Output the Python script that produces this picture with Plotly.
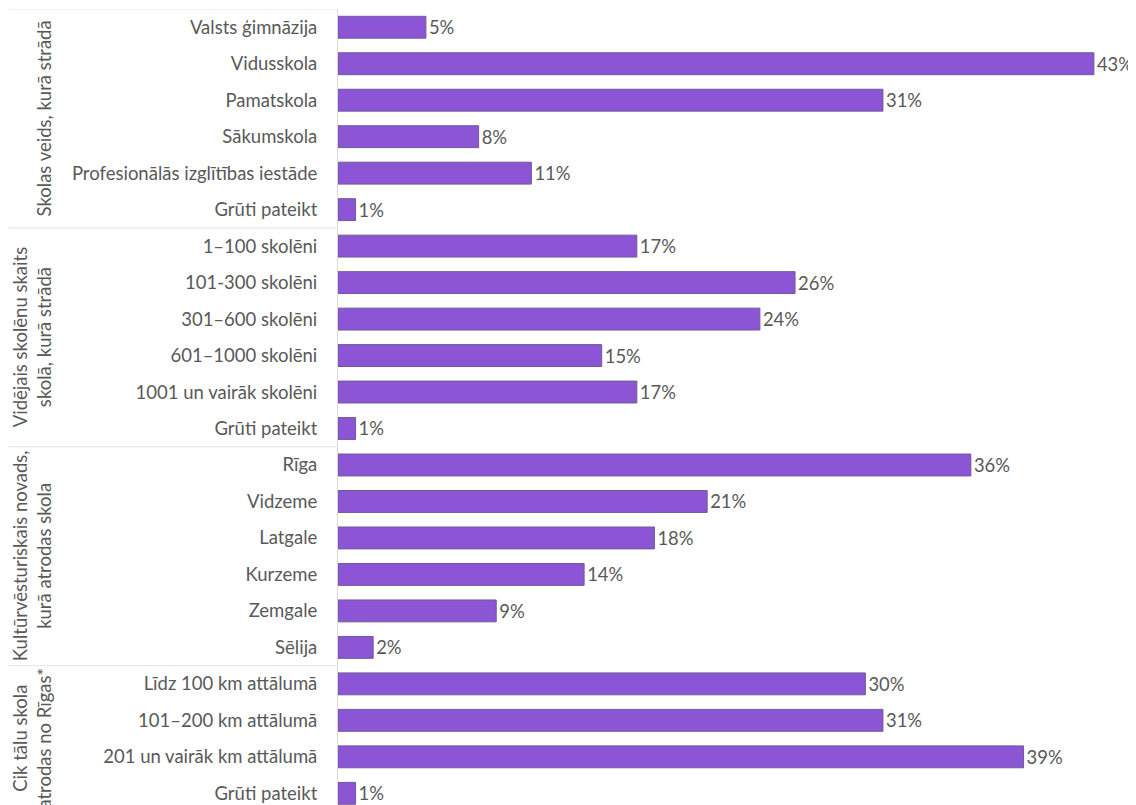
import plotly.graph_objects as go

labels = [
    "Valsts ģimnāzija", "Vidusskola", "Pamatskola", "Sākumskola",
    "Profesionālās izglītības iestāde", "Grūti pateikt",
    "1–100 skolēni", "101-300 skolēni", "301–600 skolēni", "601–1000 skolēni",
    "1001 un vairāk skolēni", "Grūti pateikt",
    "Rīga", "Vidzeme", "Latgale", "Kurzeme", "Zemgale", "Sēlija",
    "Līdz 100 km attālumā", "101–200 km attālumā", "201 un vairāk km attālumā",
    "Grūti pateikt",
]
values = [5, 43, 31, 8, 11, 1,
          17, 26, 24, 15, 17, 1,
          36, 21, 18, 14, 9, 2,
          30, 31, 39, 1]
group_titles = [
    "Skolas veids, kurā strādā",
    "Vidējais skolēnu skaits<br>skolā, kurā strādā",
    "Kultūrvēsturiskais novads,<br>kurā atrodas skola",
    "Cik tālu skola<br>atrodas no Rīgas*",
]
group_sizes = [6, 6, 6, 4]

pos = list(range(len(labels)))
FONT = "Lato"
FS = 18.5
GRAY = "#595959"

fig = go.Figure(go.Bar(
    x=values, y=pos, orientation="h",
    marker=dict(color="#8b55d6", line=dict(color="#6e5a96", width=1)),
    width=0.6,
    text=[f"{v}%" for v in values], textposition="outside",
    textfont=dict(family=FONT, size=FS, color=GRAY),
    cliponaxis=False,
))

shapes = []
annotations = []
start = 0
for title, n in zip(group_titles, group_sizes):
    shapes.append(dict(type="line", xref="paper", yref="y",
                       x0=-0.409, x1=0, y0=start - 0.5, y1=start - 0.5,
                       line=dict(color="#e3e3e3", width=1)))
    annotations.append(dict(xref="paper", yref="y", x=-0.3486, y=start + (n - 1) / 2,
                            text=title, textangle=-90, showarrow=False,
                            xanchor="right", yanchor="middle",
                            font=dict(family=FONT, size=FS, color=GRAY)))
    start += n

fig.update_layout(
    width=1136, height=805,
    margin=dict(l=330, r=0, t=1, b=0),
    plot_bgcolor="white", paper_bgcolor="white",
    showlegend=False,
    shapes=shapes, annotations=annotations,
    font=dict(family=FONT, color=GRAY),
)
fig.update_xaxes(range=[0, 45.85], visible=False, showgrid=False)
fig.update_yaxes(range=[21.54, -0.5], tickvals=pos, ticktext=labels,
                 showgrid=False, zeroline=False,
                 showline=True, linecolor="#d9d9d9", linewidth=1,
                 ticks="", ticklabelstandoff=16,
                 tickfont=dict(family=FONT, size=FS, color=GRAY))

fig.write_html("out.html")
